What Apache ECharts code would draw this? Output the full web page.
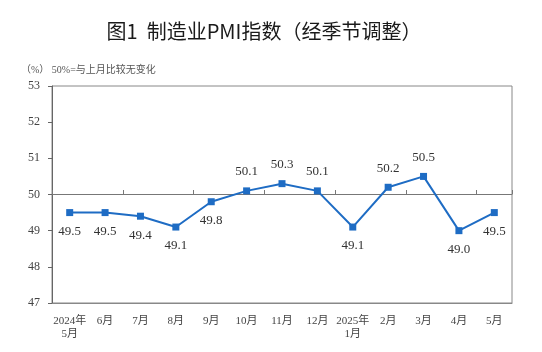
<!DOCTYPE html>
<html>
<head>
<meta charset="utf-8">
<script src="https://cdn.jsdelivr.net/npm/echarts@6/dist/echarts.min.js"></script>
<style>
  html, body { margin: 0; padding: 0; background: #fff; }
  #chart { width: 542px; height: 352px; }
</style>
</head>
<body>
<div id="chart"></div>
<script>
const months = ['2024年\n5月', '6月', '7月', '8月', '9月', '10月', '11月', '12月', '2025年\n1月', '2月', '3月', '4月', '5月'];
const pmi = [49.5, 49.5, 49.4, 49.1, 49.8, 50.1, 50.3, 50.1, 49.1, 50.2, 50.5, 49.0, 49.5];
const yTicks = [47, 48, 49, 50, 51, 52, 53];

const serif = '"Liberation Serif", "Noto Sans CJK SC", serif';
const chart = echarts.init(document.getElementById('chart'));

const option = {
  animation: false,
  title: [
    {
      text: '图1  制造业PMI指数（经季节调整）',
      left: 259,
      textAlign: 'center',
      top: 16,
      textStyle: { fontFamily: '"Noto Sans CJK SC", serif', fontSize: 20, fontWeight: 'normal', color: '#1a1a1a' }
    },
    {
      text: '（%） 50%=与上月比较无变化',
      left: 16,
      top: 60,
      textStyle: { fontFamily: serif, fontSize: 10, fontWeight: 'normal', color: '#555' }
    }
  ],
  grid: {
    left: 52, right: 30, top: 86, bottom: 49,
    show: true, borderColor: '#888', borderWidth: 1
  },
  xAxis: [
    {
      type: 'category',
      data: months,
      boundaryGap: true,
      axisLine: { lineStyle: { color: '#888' } },
      axisTick: { show: false },
      axisLabel: { fontFamily: serif, fontSize: 11, color: '#444', margin: 12, lineHeight: 13, interval: 0 }
    },
    {
      type: 'category',
      data: months,
      position: 'bottom',
      offset: -109,
      boundaryGap: true,
      axisLine: { lineStyle: { color: '#777' } },
      axisTick: { show: true, inside: true, length: 4, lineStyle: { color: '#777' } },
      axisLabel: { show: false }
    }
  ],
  yAxis: {
    type: 'value',
    min: yTicks[0],
    max: yTicks[yTicks.length - 1],
    interval: 1,
    axisLine: { show: true, lineStyle: { color: '#666' } },
    axisTick: { show: true, length: 4, lineStyle: { color: '#666' } },
    splitLine: { show: false },
    axisLabel: { fontFamily: serif, fontSize: 12, color: '#444', margin: 12 }
  },
  series: [
    {
      type: 'line',
      data: pmi.map(v => ({
        value: v,
        label: { position: v > 50 ? 'top' : 'bottom' }
      })),
      symbol: 'rect',
      symbolSize: 7,
      lineStyle: { color: '#1e6cc4', width: 2 },
      itemStyle: { color: '#1e6cc4' },
      label: {
        show: true,
        distance: 9,
        fontFamily: serif,
        fontSize: 13,
        color: '#333',
        formatter: p => p.value.toFixed(1)
      }
    }
  ]
};

chart.setOption(option);
</script>
</body>
</html>
